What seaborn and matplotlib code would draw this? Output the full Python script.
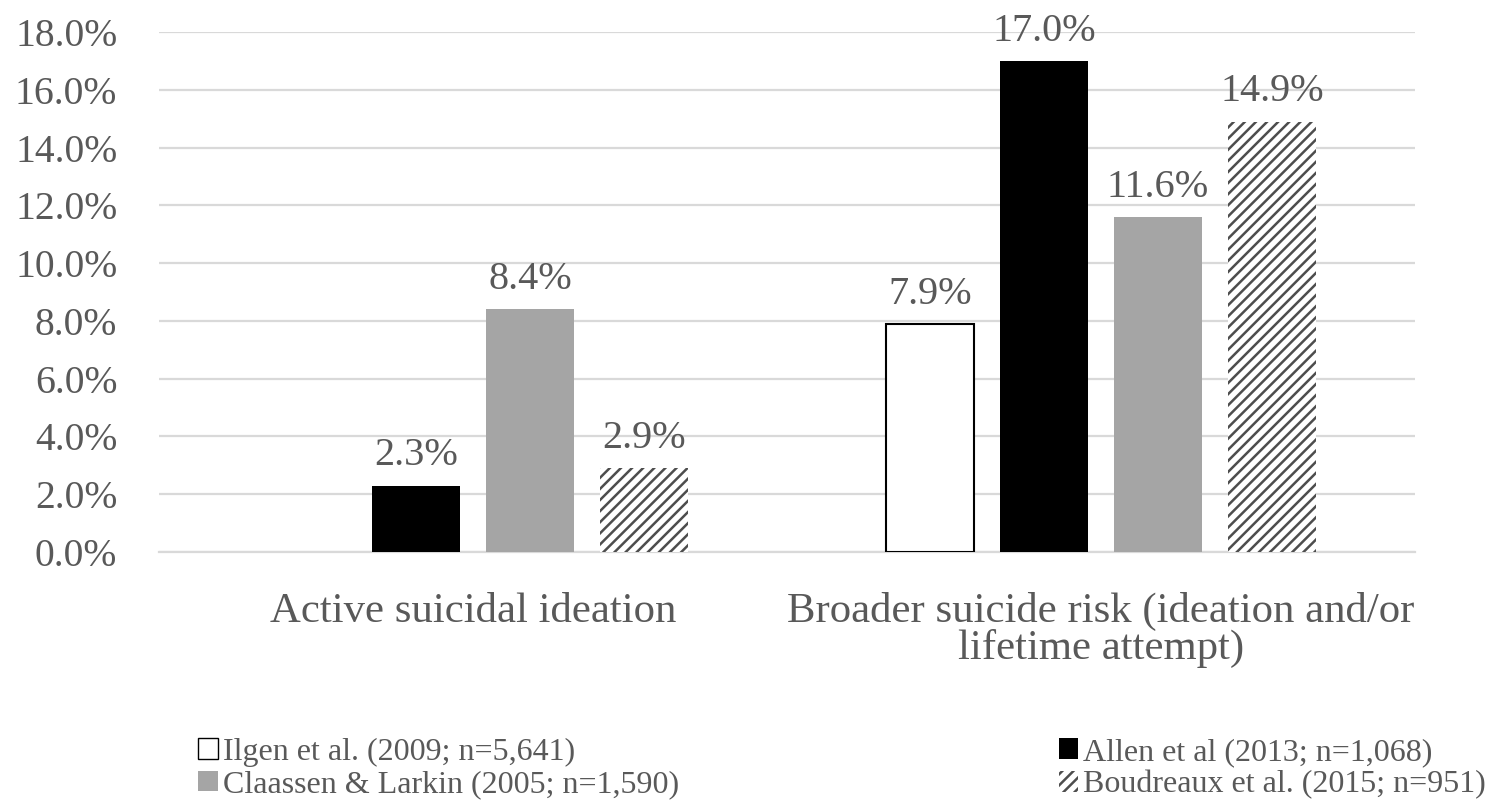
import numpy as np
import pandas as pd
import matplotlib
matplotlib.use("Agg")
import matplotlib.pyplot as plt
from matplotlib.patches import Patch
import seaborn as sns

# Outcome categories and study series
categories = ["Active suicidal ideation",
              "Broader suicide risk (ideation and/or\nlifetime attempt)"]
studies = ["Ilgen et al. (2009; n=5,641)",
           "Allen et al (2013; n=1,068)",
           "Claassen & Larkin (2005; n=1,590)",
           "Boudreaux et al. (2015; n=951)"]

# Prevalence (%) per study, one value per category (None = not reported)
ilgen = [None, 7.9]
allen = [2.3, 17.0]
claassen = [8.4, 11.6]
boudreaux = [2.9, 14.9]

y_ticks = [0, 2, 4, 6, 8, 10, 12, 14, 16, 18]

series = [ilgen, allen, claassen, boudreaux]
rows = []
for study, vals in zip(studies, series):
    for cat, v in zip(categories, vals):
        if v is not None:
            rows.append({"category": cat, "study": study, "value": v})
df = pd.DataFrame(rows)

sns.set_theme(style="white")
plt.rcParams["font.family"] = ["Liberation Serif", "DejaVu Serif"]
plt.rcParams["hatch.linewidth"] = 1.8

text_color = "#595959"
grid_color = "#D9D9D9"

styles = {
    studies[0]: dict(facecolor="white", edgecolor="black", linewidth=1.5, hatch=None),
    studies[1]: dict(facecolor="black", edgecolor="black", linewidth=0, hatch=None),
    studies[2]: dict(facecolor="#A5A5A5", edgecolor="#A5A5A5", linewidth=0, hatch=None),
    studies[3]: dict(facecolor="white", edgecolor="#4D4D4D", linewidth=0, hatch="///"),
}

fig = plt.figure(figsize=(14.87, 8.06), dpi=100)
ax = fig.add_axes([0.1069, 0.3151, 0.8447, 0.6452])

sns.barplot(data=df, x="category", y="value", hue="study",
            order=categories, hue_order=studies,
            palette={s: styles[s]["facecolor"] for s in studies},
            width=0.726, gap=0.22, errorbar=None, legend=False, ax=ax,
            zorder=3)

for study, cont in zip(studies, ax.containers):
    st = styles[study]
    for bar in cont:
        bar.set_facecolor(st["facecolor"])
        bar.set_edgecolor(st["edgecolor"])
        bar.set_linewidth(st["linewidth"])
        if st["hatch"]:
            bar.set_hatch(st["hatch"])
    ax.bar_label(cont, labels=[f"{b.get_height():.1f}%" for b in cont],
                 padding=8, fontsize=29, color=text_color)

ax.set_ylim(0, 18)
ax.set_yticks(y_ticks)
ax.set_yticklabels([f"{t:.1f}%" for t in y_ticks])
ax.set_xlim(-0.5, 1.5)
ax.set_xlabel("")
ax.set_ylabel("")
ax.yaxis.grid(True, color=grid_color, linewidth=1.6, zorder=0)
ax.set_axisbelow(True)
for side in ["left", "right", "top"]:
    ax.spines[side].set_visible(False)
ax.spines["bottom"].set_color(grid_color)
ax.spines["bottom"].set_linewidth(1.6)
ax.tick_params(axis="y", length=0, pad=30, labelsize=28.5, labelcolor=text_color)
ax.tick_params(axis="x", length=0, pad=29, labelsize=30.8, labelcolor=text_color)
for lbl in ax.get_xticklabels():
    lbl.set_linespacing(0.93)

handles = []
for study in [studies[0], studies[2], studies[1], studies[3]]:
    st = styles[study]
    edge = st["edgecolor"] if (st["linewidth"] or st["hatch"]) else st["facecolor"]
    handles.append(Patch(facecolor=st["facecolor"], edgecolor=edge,
                         linewidth=1.0 if study == studies[0] else 0,
                         hatch=st["hatch"], label=study))

fig.legend(handles=handles, loc="lower left",
           bbox_to_anchor=(198 / 1487, 0.008, (1486 - 198) / 1487, 0.1),
           mode="expand", ncol=2, frameon=False, fontsize=23,
           labelcolor=text_color, handlelength=0.62, handleheight=0.62,
           handletextpad=0.15, labelspacing=0.1, borderpad=0,
           borderaxespad=0)

fig.savefig("out.png", dpi=100)
